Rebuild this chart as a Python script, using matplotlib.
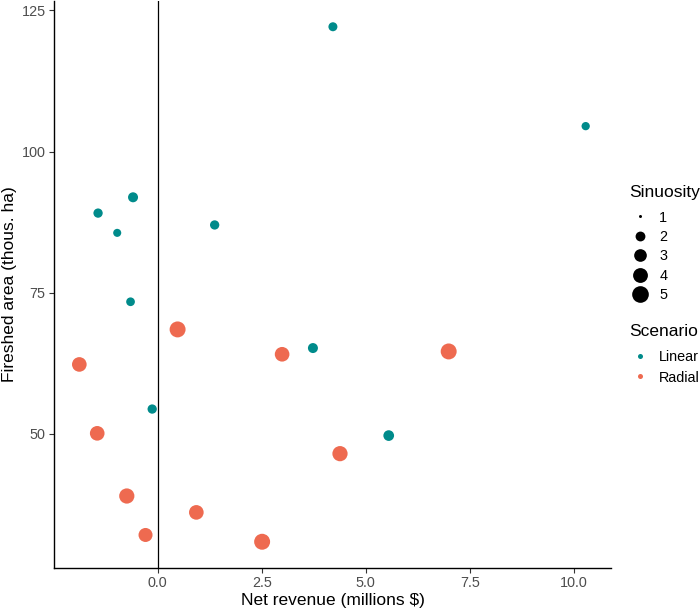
import numpy as np
import matplotlib.pyplot as plt
from matplotlib.lines import Line2D

plt.rcParams['font.family'] = ['Liberation Sans', 'DejaVu Sans']

# Linear scenario
lin_rev = [4.21, 10.28, -0.59, -1.43, -0.97, 1.37, -0.65, 3.73, -0.13, 5.55]
lin_area = [122.1, 104.5, 91.9, 89.1, 85.6, 87.0, 73.4, 65.2, 54.4, 49.7]
lin_sin = [1.77, 1.6, 2.05, 1.85, 1.55, 1.85, 1.7, 2.05, 1.85, 2.27]

# Radial scenario
rad_rev = [0.48, -1.88, 2.99, 6.99, -1.45, 4.38, -0.74, 0.93, -0.29, 2.51]
rad_area = [68.5, 62.3, 64.1, 64.6, 50.1, 46.5, 39.0, 36.1, 32.1, 30.9]
rad_sin = [4.6, 3.9, 3.9, 4.6, 3.9, 4.2, 4.2, 3.9, 3.6, 4.6]

legend_sin = [1, 2, 3, 4, 5]
col_lin = '#008B8B'
col_rad = '#EE6A50'


def diam_pt(s):
    # area scaling like ggplot scale_size: diameter in px -> points
    s = np.asarray(s, dtype=float)
    px = 3 + 14 * np.sqrt(np.clip(s - 1, 0, None) / 4.2)
    return px * 72 / 100


fig = plt.figure(figsize=(7, 6.11), dpi=100)
ax = fig.add_axes([54 / 700, 1 - 567.5 / 611, (611 - 54) / 700, (567.5 - 1) / 611])

ax.axvline(0, color='black', lw=0.9, zorder=1)
ax.scatter(lin_rev, lin_area, s=diam_pt(lin_sin) ** 2, color=col_lin, linewidths=0, zorder=3)
ax.scatter(rad_rev, rad_area, s=diam_pt(rad_sin) ** 2, color=col_rad, linewidths=0, zorder=3)

allx = lin_rev + rad_rev
ally = lin_area + rad_area
dx = (max(allx) - min(allx)) * 0.05
dy = (max(ally) - min(ally)) * 0.05
ax.set_xlim(min(allx) - dx, max(allx) + dx)
ax.set_ylim(min(ally) - dy, max(ally) + dy)

ax.set_xticks([0, 2.5, 5, 7.5, 10])
ax.set_xticklabels(['0.0', '2.5', '5.0', '7.5', '10.0'])
ax.set_yticks([50, 75, 100, 125])

for side in ['top', 'right']:
    ax.spines[side].set_visible(False)
for side in ['left', 'bottom']:
    ax.spines[side].set_linewidth(1.0)
    ax.spines[side].set_color('black')
ax.tick_params(axis='both', direction='out', length=3.5, width=0.8, color='#333333',
               labelsize=10.4, labelcolor='#4D4D4D', pad=2.5)

ax.set_xlabel('Net revenue (millions $)', fontsize=12.5, labelpad=2)
ax.set_ylabel('Fireshed area (thous. ha)', fontsize=12.5, labelpad=3)

# size legend
fig.text(629 / 700, 1 - 193 / 611, 'Sinuosity', fontsize=12.5, va='center', ha='left')
size_handles = [Line2D([], [], marker='o', linestyle='', color='black', markeredgewidth=0,
                       markersize=float(diam_pt(v))) for v in legend_sin]
fig.legend(size_handles, [str(v) for v in legend_sin],
           loc='center left', bbox_to_anchor=(631 / 700, 1 - 256.5 / 611),
           frameon=False, fontsize=10.4, labelspacing=0.38, handlelength=1.2,
           handletextpad=0.76, borderpad=0, borderaxespad=0)

# scenario legend
fig.text(629 / 700, 1 - 332 / 611, 'Scenario', fontsize=12.5, va='center', ha='left')
col_handles = [Line2D([], [], marker='o', linestyle='', color=c, markeredgewidth=0,
                      markersize=float(diam_pt(1.8)) * 0.55) for c in [col_lin, col_rad]]
fig.legend(col_handles, ['Linear', 'Radial'],
           loc='center left', bbox_to_anchor=(631 / 700, 1 - 367.5 / 611),
           frameon=False, fontsize=10.4, labelspacing=0.42, handlelength=1.2,
           handletextpad=0.76, borderpad=0, borderaxespad=0)

fig.savefig('out.png', dpi=100)
